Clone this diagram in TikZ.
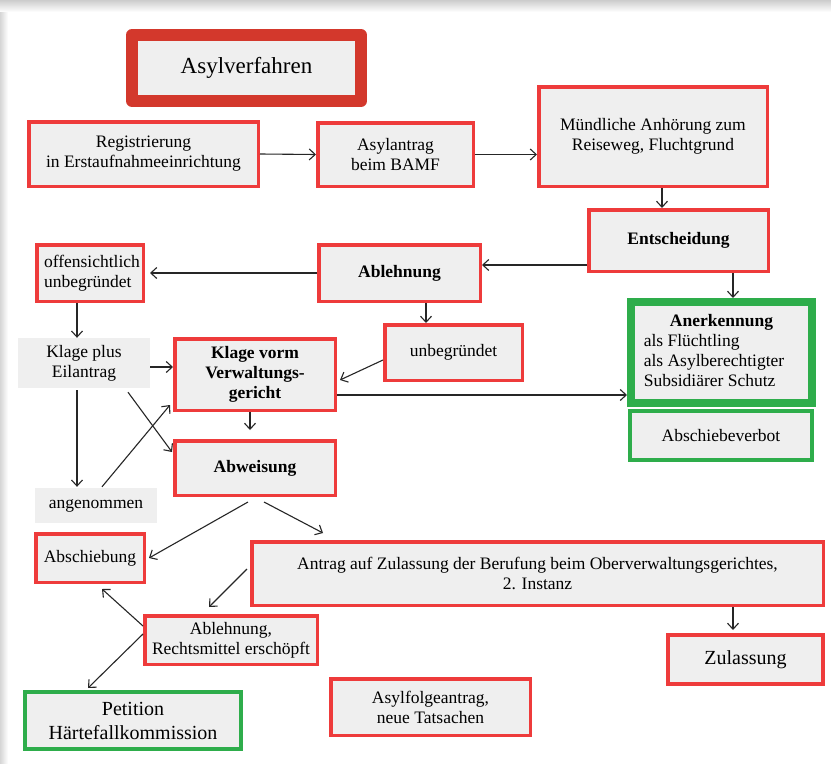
\documentclass[tikz,border=0pt]{standalone}
\usepackage{fontspec}
\setmainfont{Liberation Serif}
\usetikzlibrary{arrows.meta}
\definecolor{bred}{HTML}{EE3B3B}
\definecolor{tred}{HTML}{D3382C}
\definecolor{bgreen}{HTML}{2EAD4B}
\definecolor{bfill}{HTML}{EFEFEF}
\newcommand\fsn{\fontsize{17.5}{20}\selectfont}
\newcommand\fsl{\fontsize{20}{24}\selectfont}
\newcommand\fst{\fontsize{23}{27}\selectfont}
\begin{document}
\begin{tikzpicture}[x=1pt,y=-1pt,
  box/.style={draw=bred, fill=bfill, line width=3.5pt, inner sep=0pt, align=center, font=\fsn},
  gbox/.style={box, draw=bgreen},
  plain/.style={fill=bfill, inner sep=0pt, align=center, font=\fsn},
  arr/.style={-{Straight Barb[length=6pt,width=11pt]}, line width=1.1pt, black!85}]
\useasboundingbox (0,0) rectangle (831,771);
\fill[white] (0,0) rectangle (831,771);
\shade[top color=black!20, bottom color=white] (0,0) rectangle (831,12);
\shade[left color=black!16, right color=white] (0,12) rectangle (8,763);

% nodes
\node[box, draw=tred, line width=12pt, line join=round, minimum width=229pt, minimum height=66pt, font=\fst] (title) at (246.5,68) {Asylverfahren};
\node[box, minimum width=229.5pt, minimum height=64.5pt] (reg) at (143.5,154) {Registrierung\\in Erstaufnahmeeinrichtung};
\node[box, minimum width=155.5pt, minimum height=63.5pt] (bamf) at (395.5,154.5) {Asylantrag\\beim BAMF};
\node[box, minimum width=228.5pt, minimum height=99.5pt] (mund) at (653,136.5) {Mündliche Anhörung zum\\Reiseweg, Fluchtgrund};
\node[box, minimum width=179.5pt, minimum height=61.5pt, font=\fsn\bfseries] (ents) at (678.5,240.5) {Entscheidung};
\node[box, minimum width=161.5pt, minimum height=56.5pt, font=\fsn\bfseries] (abl) at (399.5,273) {Ablehnung};
\node[box, minimum width=106.5pt, minimum height=56.5pt, align=left] (offen) at (90,273) {\hspace*{4pt}offensichtlich\\\hspace*{4pt}unbegründet};
\node[plain, minimum width=132pt, minimum height=50pt] (kpe) at (84,363) {Klage plus\\Eilantrag};
\node[box, minimum width=137.5pt, minimum height=55.5pt] (unbeg) at (453.5,352.5) {unbegründet};
\node[box, minimum width=160.5pt, minimum height=71.5pt, font=\fsn\bfseries] (kvv) at (255,374.5) {Klage vorm\\Verwaltungs-\\gericht};
\node[gbox, line width=8pt, minimum width=181pt, minimum height=101pt] (aner) at (721.5,352.5) {\begin{tabular}{@{}l@{\hspace{15pt}}}\multicolumn{1}{@{}c@{}}{\textbf{Anerkennung}}\\ als Flüchtling\\ als Asylberechtigter\\ Subsidiärer Schutz\end{tabular}};
\node[gbox, line width=4pt, minimum width=182pt, minimum height=49pt] (abv) at (721,435.5) {Abschiebeverbot};
\node[box, minimum width=160.5pt, minimum height=54.5pt, font=\fsn\bfseries] (abw) at (255,468) {Abweisung};
\node[plain, minimum width=122pt, minimum height=35pt] (angen) at (96,505.5) {angenommen};
\node[box, minimum width=108.5pt, minimum height=48.5pt] (absch) at (90,558) {Abschiebung};
\node[box, minimum width=571.5pt, minimum height=63.5pt] (antrag) at (537.5,573.5) {Antrag auf Zulassung der Berufung beim Oberverwaltungsgerichtes,\\2. Instanz};
\node[box, minimum width=172.5pt, minimum height=48.5pt] (ablr) at (231,640) {Ablehnung,\\Rechtsmittel erschöpft};
\node[box, line width=4pt, minimum width=155pt, minimum height=49pt, font=\fsl] (zul) at (745.5,659.5) {Zulassung};
\node[box, minimum width=199.5pt, minimum height=56.5pt] (folge) at (430.5,707) {Asylfolgeantrag,\\neue Tatsachen};
\node[gbox, line width=4pt, minimum width=216pt, minimum height=57pt, font=\fsl] (pet) at (133,720.5) {Petition\\Härtefallkommission};

% connectors
\draw[arr] (reg.east) -- (bamf.west);
\draw[arr] (bamf.east) -- ([yshift=-18pt]mund.west);
\draw[arr] ([xshift=9pt]mund.south) -- ([xshift=-16.5pt]ents.north);
\draw[arr] ([yshift=-24.5pt]ents.west) -- ([yshift=8pt]abl.east);
\draw[arr] ([xshift=54.5pt]ents.south) -- ([xshift=11.5pt]aner.north);
\draw[arr] (abl.west) -- ([xshift=5pt]offen.east);
\draw[arr] ([xshift=26.5pt]abl.south) -- ([xshift=-27.5pt]unbeg.north);
\draw[arr] ([xshift=-13pt]offen.south) -- ([xshift=-7pt]kpe.north);
\draw[arr] ([yshift=-4pt]kpe.east) -- ([yshift=7.5pt]kvv.west);
\draw[arr] ([yshift=-7.5pt]unbeg.west) -- ([xshift=3pt,yshift=-5.5pt]kvv.east);
\draw[arr] ([yshift=-20.5pt]kvv.east) -- ([yshift=-42.5pt]aner.west);
\draw[arr] ([xshift=-5pt]kvv.south) -- ([xshift=-5pt,yshift=9pt]abw.north);
\draw[arr] ([xshift=44pt,yshift=-4pt]kpe.south) -- ([xshift=-1pt,yshift=16pt]abw.west);
\draw[arr] ([xshift=-7pt,yshift=-2pt]kpe.south) -- ([xshift=-19pt,yshift=1pt]angen.north);
\draw[arr] ([xshift=6pt,yshift=1pt]angen.north) -- ([xshift=-3pt,yshift=-30.5pt]kvv.west);
\draw[arr] ([xshift=-7pt,yshift=-5pt]abw.south) -- ([xshift=3pt]absch.east);
\draw[arr] ([xshift=9pt,yshift=-5pt]abw.south) -- ([xshift=73pt,yshift=7pt]antrag.north west);
\draw[arr] ([xshift=-3pt,yshift=4.5pt]antrag.west) -- ([xshift=-22pt,yshift=7pt]ablr.north);
\draw[arr] ([yshift=14pt]ablr.west) -- ([xshift=12pt,yshift=-5pt]absch.south);
\draw[arr] ([yshift=6pt]ablr.west) -- ([xshift=-45pt,yshift=2pt]pet.north);
\draw[arr] ([xshift=195.5pt]antrag.south) -- ([xshift=-12.5pt,yshift=3pt]zul.north);
\end{tikzpicture}
\end{document}
